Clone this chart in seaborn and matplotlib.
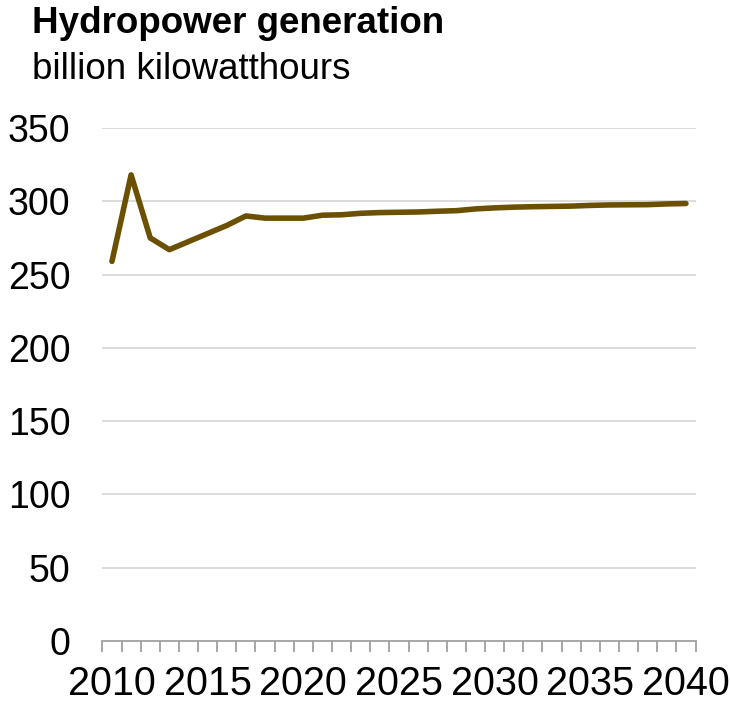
import matplotlib
matplotlib.use("Agg")
import matplotlib.pyplot as plt
import seaborn as sns
import pandas as pd
import numpy as np
from matplotlib.ticker import FixedLocator

years = list(range(2010, 2041))
generation = [259, 318, 275, 267, 272.5, 278, 283.5, 290, 288.5, 288.5,
              288.5, 290.5, 290.8, 291.8, 292.3, 292.5, 292.7, 293.2, 293.6, 294.8,
              295.5, 296, 296.3, 296.5, 296.7, 297.2, 297.5, 297.6, 297.7, 298.2, 298.5]
y_ticks = [0, 50, 100, 150, 200, 250, 300, 350]
x_label_years = [2010, 2015, 2020, 2025, 2030, 2035, 2040]

title = "Hydropower generation"
subtitle = "billion kilowatthours"

df = pd.DataFrame({"year": years, "generation": generation})

sns.set_theme(style="white")
plt.rcParams['font.family'] = ['Liberation Sans', 'DejaVu Sans']

fig = plt.figure(figsize=(7.30, 7.02), dpi=100)
ax = fig.add_axes([102.4 / 730, 61 / 702, 593.1 / 730, 513 / 702])

sns.lineplot(data=df, x="year", y="generation", ax=ax, color="#6a5000",
             linewidth=4.0, solid_capstyle="round", solid_joinstyle="round")

ax.set_xlim(2009.5, 2040.5)
ax.set_ylim(0, 350)
ax.set_yticks(y_ticks)
ax.set_yticklabels([str(v) for v in y_ticks])
ax.set_xticks(x_label_years)
ax.set_xticklabels([str(v) for v in x_label_years])
ax.xaxis.set_minor_locator(FixedLocator(np.arange(2009.5, 2041, 1.0)))

for v in y_ticks[1:]:
    ax.axhline(v, color="#d9d9d9", linewidth=1.3, zorder=0)

for s in ["top", "right", "left"]:
    ax.spines[s].set_visible(False)
ax.spines["bottom"].set_color("#a0a0a0")
ax.spines["bottom"].set_linewidth(1.3)

ax.tick_params(axis="y", length=0, pad=23, labelsize=27, labelcolor="black")
ax.tick_params(axis="x", which="major", length=0, pad=17, labelsize=28.5, labelcolor="black")
ax.tick_params(axis="x", which="minor", direction="out", length=8, width=1.3,
               color="#a0a0a0", bottom=True)
ax.set_xlabel("")
ax.set_ylabel("")

fig.text(32 / 730, 1 - 6 / 702, title, fontsize=26.5, fontweight="bold",
         ha="left", va="top", color="black")
fig.text(32 / 730, 1 - 52 / 702, subtitle, fontsize=26.5,
         ha="left", va="top", color="black")

fig.savefig("out.png", dpi=100)
